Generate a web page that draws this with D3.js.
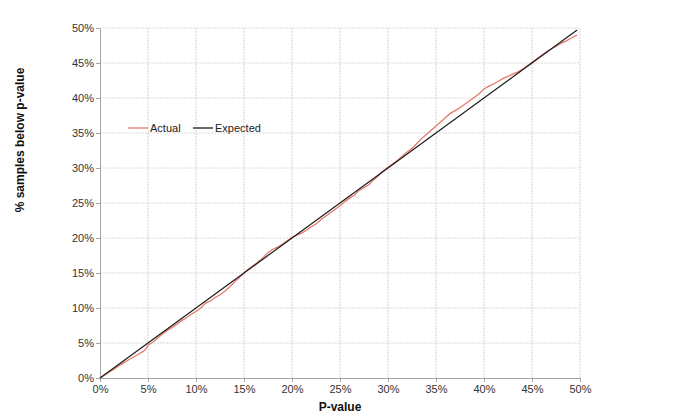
<!DOCTYPE html>
<html><head><meta charset="utf-8">
<script src="https://cdn.jsdelivr.net/npm/d3@7"></script>
<style>
body{margin:0;background:#fff;}
text{font-family:"Liberation Sans",Arial,sans-serif;}
</style></head>
<body><svg id="c" width="678" height="417"></svg>
<script>
// P-value (%) at which each Actual sample is read
const actualP = [0,0.5,1,1.5,2,2.5,3,3.5,4,4.5,4.8,5,5.5,6,6.5,7,7.5,8,8.5,9,9.5,10,10.5,11,11.5,12,12.5,13,13.5,14,14.5,15,15.5,16,16.5,17,17.5,18,18.5,19,19.5,20,20.5,21,21.5,22,22.5,23,23.5,24,24.5,25,25.5,26,26.5,27,27.5,28,28.5,29,29.5,30,30.5,31,31.5,32,32.5,33,33.5,34,34.5,35,35.5,36,36.5,37,37.5,38,38.5,39,39.5,40,40.5,41,41.5,42,42.5,43,43.5,44,44.5,45,45.5,46,46.5,47,47.5,48,48.5,49,49.7];
// % samples below p-value (Actual)
const actualV = [0,0.45,0.9,1.3,1.8,2.2,2.6,3.0,3.4,3.8,4.2,4.7,5.1,5.7,6.3,6.8,7.2,7.7,8.2,8.6,9.1,9.5,10.0,10.7,11.0,11.5,11.9,12.4,13.0,13.7,14.3,15.0,15.6,16.1,16.6,17.2,17.9,18.4,18.7,19.1,19.6,20.1,20.4,20.7,21.1,21.6,22.0,22.6,23.1,23.6,24.1,24.6,25.2,25.7,26.1,26.8,27.2,27.6,28.3,28.9,29.6,30.1,30.6,31.1,31.7,32.3,32.8,33.5,34.2,34.8,35.4,36.0,36.6,37.2,37.8,38.2,38.6,39.1,39.6,40.1,40.6,41.3,41.7,42.0,42.4,42.8,43.1,43.4,43.7,44.1,44.6,45.1,45.6,46.1,46.6,47.0,47.4,47.8,48.1,48.5,49.0];
// Expected line endpoints
const expectedP = [0,49.7];
const expectedV = [0,49.7];
const ticks = [0,5,10,15,20,25,30,35,40,45,50];
const seriesNames = ["Actual","Expected"];
const seriesColors = ["#e27a6a","#1a1a1a"];

const svg = d3.select("#c");
const x = d3.scaleLinear().domain([0,50]).range([100,580]);
const y = d3.scaleLinear().domain([0,50]).range([378,28]);

// grid
const g = svg.append("g");
g.selectAll(".vg").data(ticks.slice(1)).join("line")
  .attr("x1",d=>x(d)).attr("x2",d=>x(d)).attr("y1",y(0)).attr("y2",y(50))
  .attr("stroke","#d2d2d2").attr("stroke-width",1).attr("stroke-dasharray","2,1");
g.selectAll(".hg").data(ticks.slice(1)).join("line")
  .attr("x1",x(0)).attr("x2",x(50)).attr("y1",d=>y(d)).attr("y2",d=>y(d))
  .attr("stroke","#dadada").attr("stroke-width",1).attr("stroke-dasharray","2,1");

const fmt = d=>d+"%";
const xa = svg.append("g").attr("transform",`translate(0,${y(0)})`)
  .call(d3.axisBottom(x).tickValues(ticks).tickFormat(fmt).tickSize(4).tickSizeOuter(0));
const ya = svg.append("g").attr("transform",`translate(${x(0)},0)`)
  .call(d3.axisLeft(y).tickValues(ticks).tickFormat(fmt).tickSize(4).tickSizeOuter(0));
[xa,ya].forEach(a=>{
  a.select(".domain").attr("stroke","#a6a6a6");
  a.selectAll(".tick line").attr("stroke","#a6a6a6");
  a.selectAll(".tick text").attr("fill","#333").style("font-size","11px")
   .style("font-family","'Liberation Sans',Arial,sans-serif");
});
xa.selectAll(".tick text").attr("dy","0.9em").attr("y",5);
ya.selectAll(".tick text").attr("x",-6);

const line = d3.line().x(d=>x(d[0])).y(d=>y(d[1]));
svg.append("path").datum(actualP.map((p,i)=>[p,actualV[i]]))
  .attr("d",line).attr("fill","none").attr("stroke",seriesColors[0]).attr("stroke-width",1.3);
svg.append("path").datum(expectedP.map((p,i)=>[p,expectedV[i]]))
  .attr("d",line).attr("fill","none").attr("stroke",seriesColors[1]).attr("stroke-width",1.2);

// axis titles
svg.append("text").attr("x",340).attr("y",411).attr("text-anchor","middle")
  .style("font-size","12px").style("font-weight","bold").attr("fill","#111").text("P-value");
svg.append("text").attr("transform","translate(24,140) rotate(-90)").attr("text-anchor","middle")
  .style("font-size","12px").style("font-weight","bold").attr("fill","#111").text("% samples below p-value");

// legend
const lg = svg.append("g");
const lx = [128,193];
seriesNames.forEach((n,i)=>{
  lg.append("line").attr("x1",lx[i]).attr("x2",lx[i]+20).attr("y1",128).attr("y2",128)
    .attr("stroke",seriesColors[i]).attr("stroke-width",1.3);
  lg.append("text").attr("x",lx[i]+22).attr("y",132).style("font-size","11px").attr("fill","#222").text(n);
});
</script></body></html>
